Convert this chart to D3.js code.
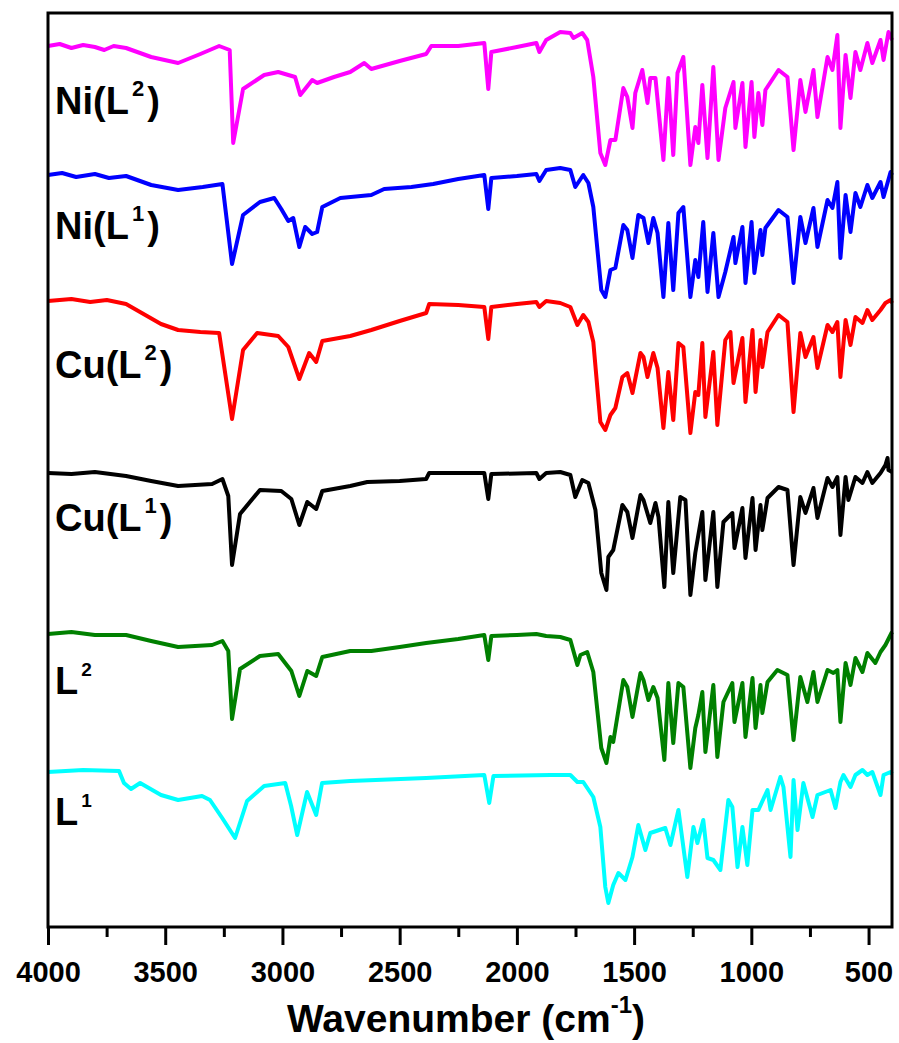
<!DOCTYPE html>
<html>
<head>
<meta charset="utf-8">
<script src="https://cdn.jsdelivr.net/npm/d3@7"></script>
<style>
    body { margin: 0; background: #fff; }
    svg { display: block; font-family: "Liberation Sans", Arial, sans-serif; font-weight: bold; }
</style>
</head>
<body>
<div id="chart"></div>
<script>
// FT-IR spectra, stacked (offset transmittance, arbitrary units)

const labelText = [
    ["Ni(L", "2", ")"],
    ["Ni(L", "1", ")"],
    ["Cu(L", "2", ")"],
    ["Cu(L", "1", ")"],
    ["L", "2", ""],
    ["L", "1", ""]
];
const seriesColors = ["#ff00ff", "#0000ff", "#ff0000", "#000000", "#008000", "#00ffff"];

const majorTicks = [4000, 3500, 3000, 2500, 2000, 1500, 1000, 500];
const minorTicks = [3750, 3250, 2750, 2250, 1750, 1250, 750];

// [wavenumber, intensity]
const niL2 = [
    [4000, 881], [3950, 883], [3900, 879], [3850, 882], [3800, 880], [3760, 877], [3720, 881],
    [3667, 879], [3560, 870], [3445, 864], [3350, 873], [3270, 881], [3225, 877], [3210, 784],
    [3168, 838], [3078, 852], [3018, 855], [2946, 850], [2924, 832], [2873, 847], [2852, 844],
    [2780, 850], [2711, 855], [2651, 864], [2621, 858], [2500, 866], [2387, 873], [2365, 881],
    [2250, 881], [2139, 884], [2122, 838], [2109, 875], [2000, 880], [1917, 884], [1904, 875],
    [1875, 887], [1815, 895], [1772, 894], [1759, 889], [1721, 894], [1700, 887], [1674, 850],
    [1644, 774], [1623, 762], [1601, 787], [1580, 787], [1546, 839], [1529, 830], [1507, 799],
    [1495, 834], [1465, 857], [1443, 824], [1431, 849], [1409, 849], [1375, 767], [1354, 849],
    [1333, 772], [1315, 854], [1290, 870], [1260, 762], [1239, 800], [1226, 784], [1209, 842],
    [1187, 769], [1162, 860], [1140, 767], [1111, 819], [1076, 845], [1068, 799], [1038, 844],
    [1025, 780], [999, 845], [987, 790], [970, 834], [953, 802], [940, 837], [884, 857],
    [846, 850], [820, 777], [791, 847], [769, 815], [735, 857], [718, 810], [675, 870],
    [654, 857], [633, 892], [620, 799], [598, 872], [577, 829], [556, 875], [535, 857],
    [505, 884], [484, 864], [449, 887], [436, 867], [415, 895], [400, 887]
];

const niL1 = [
    [4000, 752], [3940, 754], [3880, 750], [3800, 753], [3740, 749], [3667, 751], [3560, 742],
    [3445, 737], [3340, 740], [3256, 743], [3215, 663], [3168, 712], [3096, 725], [3035, 729],
    [3005, 718], [2975, 706], [2954, 709], [2928, 680], [2903, 700], [2873, 693], [2852, 695],
    [2830, 720], [2753, 729], [2621, 732], [2566, 738], [2450, 740], [2357, 743], [2250, 748],
    [2139, 752], [2122, 718], [2109, 749], [2000, 751], [1917, 753], [1904, 746], [1875, 757],
    [1815, 759], [1772, 757], [1751, 740], [1717, 752], [1695, 744], [1674, 720], [1640, 637],
    [1623, 630], [1601, 657], [1580, 659], [1546, 702], [1529, 697], [1507, 669], [1482, 712],
    [1460, 709], [1439, 684], [1418, 709], [1400, 694], [1375, 630], [1354, 704], [1333, 637],
    [1311, 714], [1290, 720], [1260, 630], [1239, 667], [1226, 650], [1205, 705], [1187, 635],
    [1162, 694], [1140, 630], [1111, 655], [1076, 690], [1068, 664], [1038, 700], [1025, 644],
    [999, 705], [987, 654], [961, 697], [953, 672], [940, 699], [884, 717], [846, 710],
    [820, 644], [791, 710], [769, 684], [735, 719], [718, 680], [675, 727], [654, 719],
    [633, 745], [620, 669], [598, 732], [577, 695], [556, 734], [535, 720], [505, 742],
    [484, 729], [449, 745], [436, 730], [406, 755], [400, 752]
];

const cuL2 = [
    [4000, 626], [3900, 628], [3820, 625], [3749, 627], [3667, 623], [3600, 614], [3518, 603],
    [3445, 597], [3350, 595], [3270, 594], [3215, 508], [3168, 577], [3108, 594], [3018, 591],
    [2975, 580], [2928, 548], [2886, 574], [2856, 565], [2830, 586], [2711, 591], [2621, 597],
    [2500, 606], [2387, 614], [2374, 623], [2250, 622], [2139, 620], [2122, 588], [2109, 620],
    [2000, 623], [1917, 625], [1904, 620], [1875, 626], [1815, 624], [1772, 620], [1742, 602],
    [1717, 612], [1695, 605], [1674, 585], [1644, 505], [1623, 497], [1601, 512], [1580, 519],
    [1550, 550], [1529, 554], [1507, 534], [1473, 574], [1460, 570], [1443, 550], [1418, 574],
    [1400, 559], [1375, 499], [1354, 555], [1333, 507], [1311, 584], [1290, 580], [1260, 494],
    [1239, 535], [1226, 532], [1209, 584], [1196, 510], [1162, 575], [1145, 502], [1111, 587],
    [1089, 595], [1076, 544], [1038, 589], [1025, 525], [995, 597], [982, 535], [961, 587],
    [953, 560], [931, 595], [884, 612], [846, 605], [820, 515], [791, 594], [769, 570],
    [735, 590], [718, 559], [675, 602], [654, 595], [633, 605], [620, 550], [598, 607],
    [577, 582], [556, 610], [526, 604], [505, 617], [484, 607], [449, 617], [428, 624],
    [406, 627], [400, 624]
];

const cuL1 = [
    [4000, 454], [3900, 453], [3800, 455], [3667, 451], [3560, 446], [3445, 441], [3300, 443],
    [3256, 448], [3231, 431], [3215, 362], [3181, 413], [3096, 437], [3005, 436], [2962, 428],
    [2928, 402], [2894, 425], [2856, 418], [2830, 436], [2711, 441], [2638, 445], [2500, 446],
    [2387, 448], [2374, 454], [2139, 454], [2122, 428], [2109, 453], [1917, 454], [1904, 448],
    [1875, 454], [1815, 455], [1772, 452], [1751, 430], [1721, 447], [1695, 444], [1665, 417],
    [1640, 354], [1618, 337], [1610, 370], [1589, 377], [1550, 422], [1529, 415], [1507, 389],
    [1473, 432], [1460, 427], [1431, 404], [1409, 424], [1396, 410], [1371, 340], [1354, 425],
    [1333, 354], [1303, 430], [1281, 427], [1260, 332], [1239, 374], [1226, 392], [1209, 415],
    [1196, 347], [1162, 415], [1145, 340], [1119, 405], [1081, 414], [1072, 379], [1038, 419],
    [1025, 369], [995, 429], [982, 377], [961, 422], [953, 397], [931, 429], [884, 440],
    [846, 437], [820, 362], [791, 430], [769, 414], [735, 439], [718, 409], [675, 449],
    [654, 440], [633, 450], [620, 392], [598, 450], [586, 427], [556, 450], [526, 444],
    [505, 455], [484, 444], [449, 454], [428, 462], [419, 469], [415, 457], [400, 455]
];

const L2 = [
    [4000, 293], [3900, 295], [3800, 292], [3667, 292], [3560, 286], [3445, 280], [3300, 282],
    [3256, 286], [3231, 276], [3215, 208], [3181, 258], [3096, 271], [3018, 273], [2962, 256],
    [2928, 231], [2894, 256], [2856, 251], [2830, 270], [2711, 276], [2621, 276], [2500, 280],
    [2387, 284], [2250, 288], [2139, 292], [2122, 267], [2109, 291], [2000, 292], [1917, 293],
    [1875, 291], [1815, 290], [1772, 287], [1742, 262], [1729, 272], [1700, 275], [1674, 255],
    [1640, 179], [1618, 164], [1601, 190], [1589, 185], [1546, 247], [1529, 240], [1507, 210],
    [1473, 254], [1460, 247], [1439, 227], [1418, 240], [1400, 229], [1371, 167], [1354, 244],
    [1333, 184], [1311, 244], [1290, 240], [1260, 159], [1239, 199], [1226, 212], [1209, 235],
    [1196, 175], [1162, 242], [1145, 170], [1119, 225], [1081, 244], [1072, 205], [1038, 244],
    [1025, 190], [995, 249], [982, 199], [961, 242], [953, 214], [931, 245], [889, 257],
    [846, 252], [820, 187], [791, 250], [761, 225], [735, 255], [718, 225], [675, 257],
    [650, 254], [633, 257], [620, 205], [598, 264], [577, 242], [556, 269], [526, 255],
    [505, 274], [471, 264], [449, 275], [428, 282], [400, 295]
];

const L1 = [
    [4000, 155], [3850, 157], [3697, 156], [3676, 144], [3646, 138], [3607, 144], [3518, 132],
    [3445, 127], [3343, 131], [3309, 127], [3257, 109], [3202, 89], [3151, 126], [3078, 141],
    [2988, 144], [2963, 121], [2937, 92], [2895, 135], [2856, 112], [2831, 144], [2711, 146],
    [2387, 149], [2139, 152], [2118, 124], [2100, 151], [1857, 152], [1772, 152], [1742, 145],
    [1717, 145], [1674, 130], [1644, 100], [1623, 40], [1610, 24], [1589, 42], [1567, 54],
    [1537, 47], [1507, 70], [1482, 102], [1452, 77], [1431, 94], [1367, 99], [1345, 82],
    [1311, 117], [1273, 50], [1247, 100], [1230, 84], [1205, 107], [1187, 69], [1162, 67],
    [1132, 57], [1098, 127], [1081, 120], [1059, 60], [1038, 100], [1017, 62], [995, 117],
    [970, 117], [931, 137], [918, 117], [876, 150], [863, 140], [833, 70], [820, 147],
    [803, 97], [778, 144], [739, 110], [718, 132], [662, 137], [641, 119], [620, 145],
    [607, 152], [577, 140], [556, 152], [526, 157], [505, 152], [484, 155], [449, 132],
    [436, 152], [406, 155], [400, 153]
];

const spectra = [niL2, niL1, cuL2, cuL1, L2, L1];

const width = 899;
const height = 1043;
const margin = { top: 13, right: 7, bottom: 116, left: 48 };

const svg = d3.select("#chart")
    .append("svg")
    .attr("width", width)
    .attr("height", height);

const x = d3.scaleLinear()
    .domain([4000, 400])
    .range([margin.left, width - margin.right]);

const y = d3.scaleLinear()
    .domain([0, 914])
    .range([height - margin.bottom, margin.top]);

const line = d3.line()
    .x(d => x(d[0]))
    .y(d => y(d[1]));

svg.selectAll("path.spectrum")
    .data(spectra)
    .enter()
    .append("path")
    .attr("class", "spectrum")
    .attr("d", line)
    .attr("fill", "none")
    .attr("stroke", (d, i) => seriesColors[i])
    .attr("stroke-width", 4)
    .attr("stroke-linejoin", "round");

// labels next to each trace
const labelY = [114, 239, 378, 531, 694, 825];
const labelSup = [22, 22, 22, 22, 19, 19];

labelText.forEach(function(t, i) {
    const txt = svg.append("text")
        .attr("x", 55)
        .attr("y", labelY[i])
        .attr("font-size", 38)
        .attr("fill", "#000");
    txt.append("tspan").text(t[0]);
    txt.append("tspan")
        .attr("font-size", labelSup[i])
        .attr("dx", 3)
        .attr("dy", -18)
        .text(t[1]);
    if (t[2]) {
        txt.append("tspan")
            .attr("dx", 3)
            .attr("dy", 18)
            .text(t[2]);
    }
});

// axes
const axisY = height - margin.bottom;

const major = svg.append("g")
    .attr("transform", "translate(0," + axisY + ")")
    .call(d3.axisBottom(x)
        .tickValues(majorTicks)
        .tickFormat(d3.format("d"))
        .tickSize(18)
        .tickSizeOuter(0)
        .tickPadding(16));

svg.append("g")
    .attr("transform", "translate(0," + axisY + ")")
    .call(d3.axisBottom(x).tickValues(minorTicks).tickSize(10).tickSizeOuter(0).tickFormat(""));

svg.selectAll(".domain").remove();
svg.selectAll(".tick line")
    .attr("stroke", "#000")
    .attr("stroke-width", 3);
major.selectAll(".tick text")
    .attr("font-size", 29)
    .attr("font-family", "Liberation Sans, Arial, sans-serif")
    .attr("font-weight", "bold")
    .attr("fill", "#000");

svg.append("rect")
    .attr("x", margin.left)
    .attr("y", margin.top)
    .attr("width", width - margin.left - margin.right)
    .attr("height", height - margin.top - margin.bottom)
    .attr("fill", "none")
    .attr("stroke", "#000")
    .attr("stroke-width", 3);

const title = svg.append("text")
    .attr("x", 466)
    .attr("y", 1032)
    .attr("text-anchor", "middle")
    .attr("font-size", 39)
    .attr("fill", "#000");
title.append("tspan").text("Wavenumber (cm");
title.append("tspan").attr("font-size", 24).attr("dy", -19).text("-1");
title.append("tspan").attr("dy", 19).text(")");
</script>
</body>
</html>
